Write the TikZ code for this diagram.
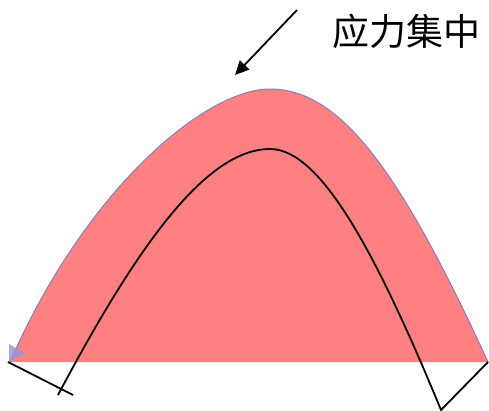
\documentclass[tikz,border=0pt]{standalone}
\usepackage{fontspec}
\newfontfamily\cjk{Noto Sans CJK SC}
\usetikzlibrary{arrows.meta}
\definecolor{fillred}{RGB}{255,128,128}
\definecolor{edgeblue}{RGB}{128,128,192}
\definecolor{tipblue}{RGB}{150,150,210}
\begin{document}
\begin{tikzpicture}[x=1pt,y=-1pt,
  inner/.style={black,line width=1.8pt,line join=round},
  outer/.style={edgeblue,line width=1pt}]
\useasboundingbox (0,0) rectangle (489,411);
\coordinate (ol) at (10,362);
\coordinate (op) at (270,89);
\coordinate (or) at (488,362);
% red region
\fill[fillred] (ol) .. controls (85,190) and (205,89) .. (op)
  .. controls (340,89) and (400,170) .. (or) -- cycle;
% outline
\draw[outer] (ol) .. controls (85,190) and (205,89) .. (op)
  .. controls (340,89) and (400,170) .. (or);
\fill[tipblue,opacity=0.85] (9,344) -- (25,353) -- (9,362) -- cycle;
% black inner curve
\coordinate (la) at (8,362);
\coordinate (lb) at (73,395);
\coordinate (bl) at (58,395);
\coordinate (ip) at (270,149);
\coordinate (br) at (441,410);
\coordinate (re) at (488,362);
\draw[inner] (la) -- (lb);
\draw[inner] (bl) .. controls (135,250) and (205,149) .. (ip)
  .. controls (320,149) and (375,250) .. (br) -- (re);
% arrow and label
\coordinate (as) at (297,10);
\coordinate (ae) at (235,75);
\draw[black,line width=1.8pt,-{Triangle[length=14pt,width=13pt]}] (as) -- (ae);
\node[font=\cjk\fontsize{37}{42}\selectfont,anchor=center] (lbl) at (406,31) {应力集中};
\end{tikzpicture}
\end{document}
